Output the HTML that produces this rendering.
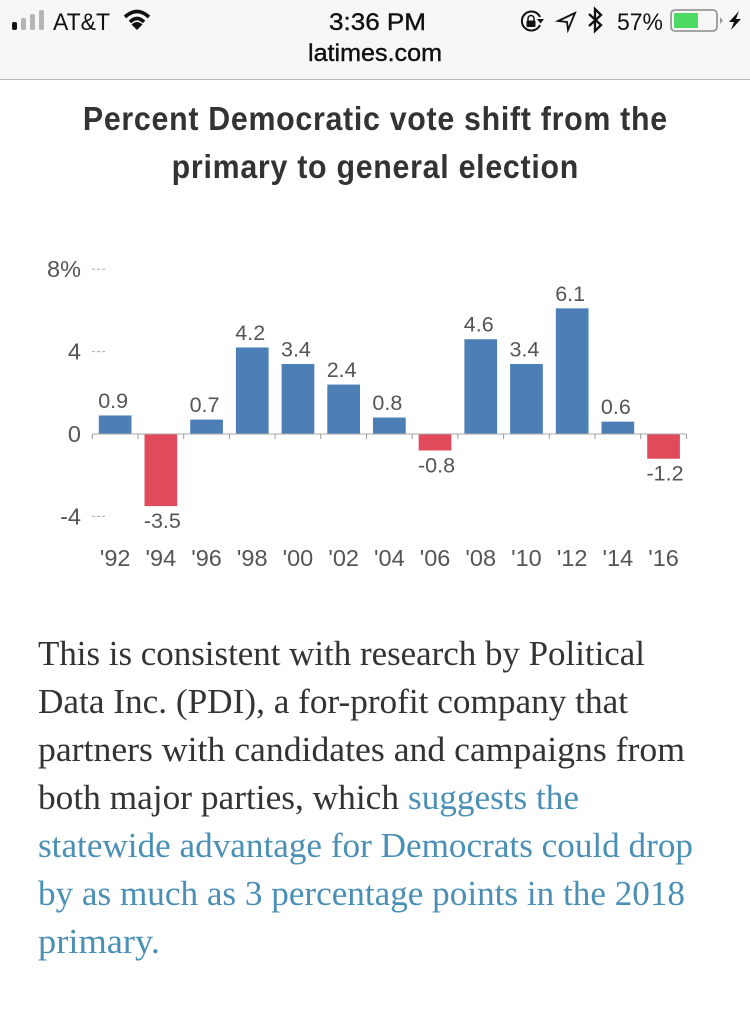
<!DOCTYPE html>
<html lang="en">
<head>
<meta charset="utf-8">
<title>Percent Democratic vote shift</title>
<style>
html,body{margin:0;padding:0;background:#fff;width:750px;height:1015px;overflow:hidden}
svg{display:block}
text{font-family:"Liberation Sans",sans-serif}
.body-line{font-family:"Liberation Serif",serif;font-size:35px;fill:#333}
.link-line{font-family:"Liberation Serif",serif;font-size:35px;fill:#4a8fb5;cursor:pointer}
.title-line{font-weight:bold;font-size:33px;fill:#333;text-anchor:middle}
.status{font-size:24px;fill:#111}
.chart-text{font-size:23.5px;fill:#555}
</style>
</head>
<body>
<svg id="page" width="750" height="1015" viewBox="0 0 750 1015" xmlns="http://www.w3.org/2000/svg">
  <rect x="0" y="0" width="750" height="79" fill="#f7f7f7"/>
  <rect x="0" y="79" width="750" height="1" fill="#b8b8b8"/>

  <g>
    <rect x="12" y="22" width="5" height="8" rx="2" fill="#111"/>
    <rect x="21" y="18" width="5" height="12" rx="2" fill="#b5b5b5"/>
    <rect x="30" y="14" width="5" height="16" rx="2" fill="#b5b5b5"/>
    <rect x="39" y="10" width="5" height="20" rx="2" fill="#b5b5b5"/>
  </g>
  <text class="status" x="53" y="30" textLength="57" lengthAdjust="spacingAndGlyphs">AT&amp;T</text>
  <g fill="none" stroke="#111" stroke-width="3.6">
    <path d="M125 17 Q137 6 149 17"/>
    <path d="M130 22 Q137 15 144 22"/>
    <path d="M137 30 L131.5 24.5 Q137 19.5 142.5 24.5 Z" fill="#111" stroke="none"/>
  </g>
  <text class="status" x="329" y="30" textLength="97" lengthAdjust="spacingAndGlyphs" style="stroke:#111;stroke-width:.4">3:36 PM</text>
  <text class="status" x="308" y="61" textLength="134" lengthAdjust="spacingAndGlyphs" style="stroke:#111;stroke-width:.4">latimes.com</text>

  <g>
    <path d="M540 17 A9.5 9.5 0 1 0 540 25" fill="none" stroke="#111" stroke-width="2"/>
    <path d="M537 19 L544 19 L540.5 23.5 Z" fill="#111"/>
    <rect x="526.5" y="20.5" width="9" height="6.5" rx="1" fill="#111"/>
    <path d="M528 20.5 v-2 a3 3 0 0 1 6 0 v2" fill="none" stroke="#111" stroke-width="1.5"/>
  </g>
  <path d="M575 13 L558 21 L567 22 L568 30 Z" fill="none" stroke="#111" stroke-width="1.8"/>
  <path d="M589 14 L601 25 L595 31 L595 9 L601 15 L589 26" fill="none" stroke="#111" stroke-width="2.3"/>
  <text class="status" x="617" y="30" textLength="46" lengthAdjust="spacingAndGlyphs">57%</text>
  <g>
    <rect x="671" y="10" width="46" height="21" rx="4" fill="none" stroke="#999" stroke-width="1.8"/>
    <rect x="674" y="13" width="24" height="15" rx="1" fill="#4cd964"/>
    <path d="M720 17 L723 20.5 L720 24 Z" fill="#999"/>
  </g>
  <path d="M739 11 L729 22 L734 22 L731 30 L741 19 L736 19 Z" fill="#111"/>

  <g transform="scale(0.92,1)">
    <text class="title-line" x="407.6" y="130" textLength="635" lengthAdjust="spacing">Percent Democratic vote shift from the</text>
    <text class="title-line" x="407.6" y="178" textLength="442" lengthAdjust="spacing">primary to general election</text>
  </g>

  <g id="chart"></g>

  <g>
    <text class="body-line" x="38" y="665" textLength="607" lengthAdjust="spacingAndGlyphs">This is consistent with research by Political</text>
    <text class="body-line" x="38" y="713" textLength="590" lengthAdjust="spacingAndGlyphs">Data Inc. (PDI), a for-profit company that</text>
    <text class="body-line" x="38" y="761" textLength="647" lengthAdjust="spacingAndGlyphs">partners with candidates and campaigns from</text>
    <text class="body-line" x="38" y="809" textLength="361" lengthAdjust="spacingAndGlyphs">both major parties, which</text>
    <text class="link-line" x="408" y="809" textLength="171" lengthAdjust="spacingAndGlyphs">suggests the</text>
    <text class="link-line" x="38" y="857" textLength="655" lengthAdjust="spacingAndGlyphs">statewide advantage for Democrats could drop</text>
    <text class="link-line" x="38" y="905" textLength="647" lengthAdjust="spacingAndGlyphs">by as much as 3 percentage points in the 2018</text>
    <text class="link-line" x="38" y="953" textLength="122" lengthAdjust="spacingAndGlyphs">primary.</text>
  </g>
</svg>
<script>
const categories = ["'92","'94","'96","'98","'00","'02","'04","'06","'08","'10","'12","'14","'16"];
const shiftValues = [0.9,-3.5,0.7,4.2,3.4,2.4,0.8,-0.8,4.6,3.4,6.1,0.6,-1.2];
const yTickValues = [8,4,0,-4];
const yTickLabels = ["8%","4","0","-4"];

const NS = "http://www.w3.org/2000/svg";
const chart = document.getElementById("chart");
const yZero = 434, yUnit = 20.6, xStart = 92.3, xStep = 45.7, barWidth = 32.7;
function yScale(v){ return yZero - v * yUnit; }
function xBand(i){ return xStart + i * xStep; }
function xCenter(i){ return xBand(i) + xStep / 2; }
function make(tag, attrs, parent){
  const el = document.createElementNS(NS, tag);
  for (const k in attrs) el.setAttribute(k, attrs[k]);
  (parent || chart).appendChild(el);
  return el;
}

yTickValues.forEach(function(v, i){
  const label = make("text", {x: 81, y: yScale(v) + 8, "text-anchor": "end", "class": "chart-text"});
  
  
  label.textContent = yTickLabels[i];
  if (v !== 0) {
    const tick = make("line", {x1: 92, x2: 107, y1: yScale(v), y2: yScale(v), stroke: "#aaa", "stroke-width": 1, "stroke-dasharray": "3 2"});
    
    
  }
});

shiftValues.forEach(function(v, i){
  const top = yScale(Math.max(v, 0));
  const bottom = yScale(Math.min(v, 0));
  const bar = make("rect", {x: xCenter(i) - barWidth / 2, y: top, width: barWidth, height: bottom - top, fill: v < 0 ? "#e04a5a" : "#4c7fb6"});
  
  
  const valueLabel = make("text", {x: xCenter(i) + (v < 0 ? 1.5 : -2), y: v < 0 ? bottom + 22 : top - 7.5, "text-anchor": "middle", "class": "chart-text", style: "font-size:21.5px"});
  
  
  valueLabel.textContent = String(v);
  const catLabel = make("text", {x: xCenter(i), y: 566, "text-anchor": "middle", "class": "chart-text"});
  
  
  catLabel.textContent = categories[i];
});

const axis = make("line", {x1: xStart, x2: xBand(categories.length), y1: yZero, y2: yZero, stroke: "#aaa", "stroke-width": 1});


for (let i = 0; i <= categories.length; i++) {
  const tick = make("line", {x1: xBand(i), x2: xBand(i), y1: yZero, y2: yZero + 5, stroke: "#999", "stroke-width": 1});
  
  
}
</script>
</body>
</html>
